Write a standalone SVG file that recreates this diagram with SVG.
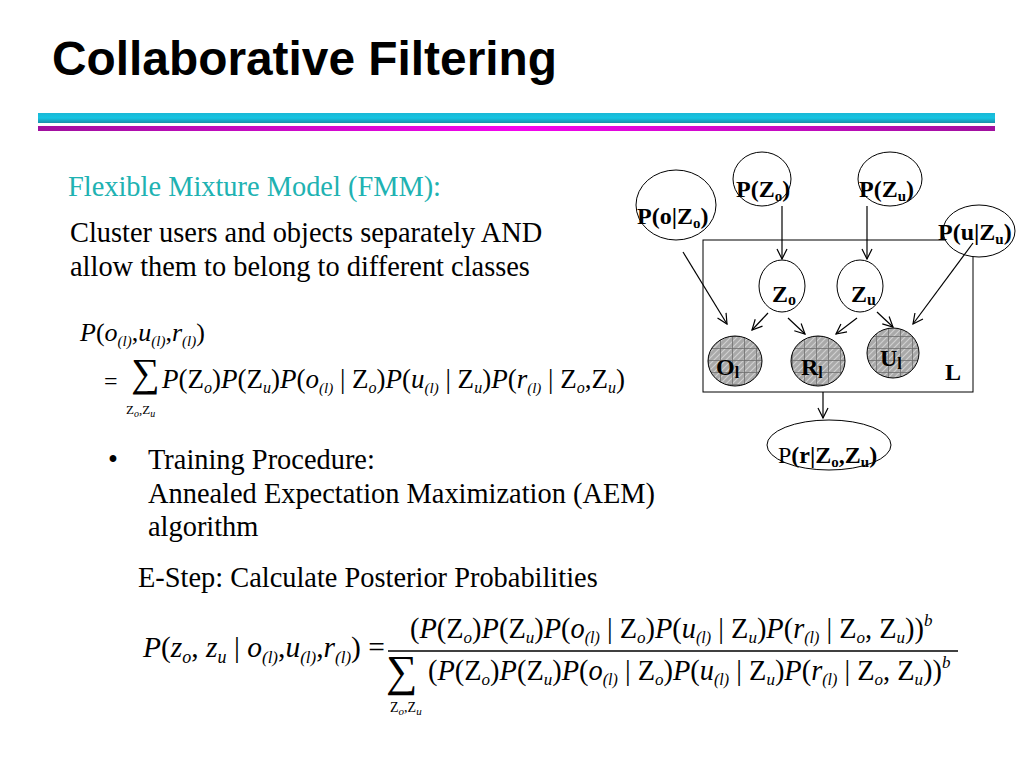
<svg xmlns="http://www.w3.org/2000/svg" width="1024" height="768" viewBox="0 0 1024 768">
<defs>
<style>
.t{font-family:"Liberation Serif","DejaVu Serif",serif;font-size:28.4px;fill:#000}
.m{font-family:"Liberation Serif","DejaVu Serif",serif;fill:#000}
.i{font-style:italic}
.nl{font-family:"Liberation Serif","DejaVu Serif",serif;font-weight:bold;font-size:24px;fill:#000}
.node{fill:#fff;stroke:#000;stroke-width:1}
.obs{fill:url(#hatch);stroke:#000;stroke-width:1}
.con line{stroke:#000;stroke-width:1.2;marker-end:url(#arr)}
</style>
<marker id="arr" viewBox="0 0 12 12" refX="11" refY="6" markerWidth="12" markerHeight="12" markerUnits="userSpaceOnUse" orient="auto">
<path d="M1,1 L11,6 L1,11" fill="none" stroke="#000" stroke-width="1.2"/>
</marker>
<pattern id="hatch" width="12" height="12" patternUnits="userSpaceOnUse">
<rect width="12" height="12" fill="#a9a9a9"/>
<path d="M-3,3 L3,-3 M0,12 L12,0 M9,15 L15,9 M-3,9 L9,-3 M3,15 L15,3" stroke="#d0d0d0" stroke-width="1.2"/>
<path d="M0,0.5 H12 M0.5,0 V12" stroke="#6e6e6e" stroke-width="0.8"/>
</pattern>
<linearGradient id="cy" x1="0" y1="0" x2="0" y2="1">
<stop offset="0" stop-color="#1ab8d6"/>
<stop offset="0.5" stop-color="#16c4e2"/>
<stop offset="1" stop-color="#1a8ea8"/>
</linearGradient>
<linearGradient id="mg" x1="0" y1="0" x2="1" y2="0">
<stop offset="0" stop-color="#a0109e"/>
<stop offset="0.5" stop-color="#f404ee"/>
<stop offset="1" stop-color="#a0109e"/>
</linearGradient>
</defs>
<rect width="1024" height="768" fill="#fff"/>

<text x="52" y="75" font-family="Liberation Sans, Arial, sans-serif" font-weight="bold" font-size="48" textLength="505" lengthAdjust="spacingAndGlyphs">Collaborative Filtering</text>
<rect x="38" y="113" width="957" height="10" fill="url(#cy)"/>
<rect x="38" y="126" width="957" height="5" fill="url(#mg)"/>

<text class="t" x="68" y="196" style="fill:#20b2b2">Flexible Mixture Model (FMM):</text>
<text class="t" x="70" y="242">Cluster users and objects separately AND</text>
<text class="t" x="70" y="276">allow them to belong to different classes</text>

<!-- formula 1 -->
<text class="m" font-size="26" x="80" y="341"><tspan class="i">P</tspan>(<tspan class="i">o</tspan><tspan font-size="15" class="i" dy="5">(l)</tspan><tspan dy="-5">,</tspan><tspan class="i">u</tspan><tspan font-size="15" class="i" dy="5">(l)</tspan><tspan dy="-5">,</tspan><tspan class="i">r</tspan><tspan font-size="15" class="i" dy="5">(l)</tspan><tspan dy="-5">)</tspan></text>
<text class="m" font-size="24" x="104" y="389">=</text>
<text class="m" font-size="40" x="131" y="386">∑</text>
<text class="m" font-size="13" x="126" y="414">Z<tspan class="i" font-size="10" dy="3">o</tspan><tspan dy="-3">,Z</tspan><tspan class="i" font-size="10" dy="3">u</tspan></text>
<text class="m" font-size="27" x="162" y="388"><tspan class="i">P</tspan>(Z<tspan class="i" font-size="16" dy="5">o</tspan><tspan dy="-5">)</tspan><tspan class="i">P</tspan>(Z<tspan class="i" font-size="16" dy="5">u</tspan><tspan dy="-5">)</tspan><tspan class="i">P</tspan>(<tspan class="i">o</tspan><tspan class="i" font-size="15" dy="5">(l)</tspan><tspan dy="-5"> | Z</tspan><tspan class="i" font-size="16" dy="5">o</tspan><tspan dy="-5">)</tspan><tspan class="i">P</tspan>(<tspan class="i">u</tspan><tspan class="i" font-size="15" dy="5">(l)</tspan><tspan dy="-5"> | Z</tspan><tspan class="i" font-size="16" dy="5">u</tspan><tspan dy="-5">)</tspan><tspan class="i">P</tspan>(<tspan class="i">r</tspan><tspan class="i" font-size="15" dy="5">(l)</tspan><tspan dy="-5"> | Z</tspan><tspan class="i" font-size="16" dy="5">o</tspan><tspan dy="-5">,Z</tspan><tspan class="i" font-size="16" dy="5">u</tspan><tspan dy="-5">)</tspan></text>

<text class="t" x="108" y="469">•</text>
<text class="t" x="148" y="469">Training Procedure:</text>
<text class="t" x="148" y="503">Annealed Expectation Maximization (AEM)</text>
<text class="t" x="148" y="536">algorithm</text>
<text class="t" x="138" y="587">E-Step: Calculate Posterior Probabilities</text>

<!-- formula 2 -->
<text class="m" font-size="29.5" x="143" y="657"><tspan class="i">P</tspan>(<tspan class="i">z</tspan><tspan class="i" font-size="18" dy="6">o</tspan><tspan dy="-6">, </tspan><tspan class="i">z</tspan><tspan class="i" font-size="18" dy="6">u</tspan><tspan dy="-6"> | </tspan><tspan class="i">o</tspan><tspan class="i" font-size="17" dy="6">(l)</tspan><tspan dy="-6">,</tspan><tspan class="i">u</tspan><tspan class="i" font-size="17" dy="6">(l)</tspan><tspan dy="-6">,</tspan><tspan class="i">r</tspan><tspan class="i" font-size="17" dy="6">(l)</tspan><tspan dy="-6">) =</tspan></text>
<line x1="388" y1="651" x2="958" y2="651" stroke="#000" stroke-width="1.5"/>
<text class="m" font-size="28.4" x="410" y="638">(<tspan class="i">P</tspan>(Z<tspan class="i" font-size="17" dy="5">o</tspan><tspan dy="-5">)</tspan><tspan class="i">P</tspan>(Z<tspan class="i" font-size="17" dy="5">u</tspan><tspan dy="-5">)</tspan><tspan class="i">P</tspan>(<tspan class="i">o</tspan><tspan class="i" font-size="16" dy="5">(l)</tspan><tspan dy="-5"> | Z</tspan><tspan class="i" font-size="17" dy="5">o</tspan><tspan dy="-5">)</tspan><tspan class="i">P</tspan>(<tspan class="i">u</tspan><tspan class="i" font-size="16" dy="5">(l)</tspan><tspan dy="-5"> | Z</tspan><tspan class="i" font-size="17" dy="5">u</tspan><tspan dy="-5">)</tspan><tspan class="i">P</tspan>(<tspan class="i">r</tspan><tspan class="i" font-size="16" dy="5">(l)</tspan><tspan dy="-5"> | Z</tspan><tspan class="i" font-size="17" dy="5">o</tspan><tspan dy="-5">, Z</tspan><tspan class="i" font-size="17" dy="5">u</tspan><tspan dy="-5">))</tspan><tspan class="i" font-size="17" dy="-12">b</tspan></text>
<text class="m" font-size="44" x="386" y="686">∑</text>
<text class="m" font-size="14" x="390" y="712">Z<tspan class="i" font-size="11" dy="3">o</tspan><tspan dy="-3">,Z</tspan><tspan class="i" font-size="11" dy="3">u</tspan></text>
<text class="m" font-size="28.4" x="428" y="680">(<tspan class="i">P</tspan>(Z<tspan class="i" font-size="17" dy="5">o</tspan><tspan dy="-5">)</tspan><tspan class="i">P</tspan>(Z<tspan class="i" font-size="17" dy="5">u</tspan><tspan dy="-5">)</tspan><tspan class="i">P</tspan>(<tspan class="i">o</tspan><tspan class="i" font-size="16" dy="5">(l)</tspan><tspan dy="-5"> | Z</tspan><tspan class="i" font-size="17" dy="5">o</tspan><tspan dy="-5">)</tspan><tspan class="i">P</tspan>(<tspan class="i">u</tspan><tspan class="i" font-size="16" dy="5">(l)</tspan><tspan dy="-5"> | Z</tspan><tspan class="i" font-size="17" dy="5">u</tspan><tspan dy="-5">)</tspan><tspan class="i">P</tspan>(<tspan class="i">r</tspan><tspan class="i" font-size="16" dy="5">(l)</tspan><tspan dy="-5"> | Z</tspan><tspan class="i" font-size="17" dy="5">o</tspan><tspan dy="-5">, Z</tspan><tspan class="i" font-size="17" dy="5">u</tspan><tspan dy="-5">))</tspan><tspan class="i" font-size="17" dy="-12">b</tspan></text>

<!-- graphical model -->
<rect id="plate" x="703" y="240" width="270" height="152" fill="none" stroke="#000" stroke-width="1"/>
<g id="n-pzo"><ellipse class="node" cx="762" cy="179" rx="29" ry="27"/><text class="nl" x="736" y="197">P(Z<tspan font-size="15" dy="4">o</tspan><tspan dy="-4">)</tspan></text></g>
<g id="n-pzu"><ellipse class="node" cx="890" cy="179" rx="32" ry="27"/><text class="nl" x="859" y="197">P(Z<tspan font-size="15" dy="4">u</tspan><tspan dy="-4">)</tspan></text></g>
<g id="n-poz"><ellipse class="node" cx="676" cy="205" rx="40" ry="35"/><text class="nl" x="637" y="224">P(o|Z<tspan font-size="15" dy="4">o</tspan><tspan dy="-4">)</tspan></text></g>
<g id="n-puz"><ellipse class="node" cx="979" cy="231" rx="36" ry="26"/><text class="nl" x="938" y="240">P(u|Z<tspan font-size="15" dy="4">u</tspan><tspan dy="-4">)</tspan></text></g>
<g id="n-zo"><ellipse class="node" cx="782" cy="286" rx="23" ry="26"/><text class="nl" font-size="26" x="772" y="302">Z<tspan font-size="16" dy="3">o</tspan></text></g>
<g id="n-zu"><ellipse class="node" cx="860" cy="286" rx="23" ry="26"/><text class="nl" font-size="26" x="851" y="302">Z<tspan font-size="16" dy="3">u</tspan></text></g>
<g id="n-ol"><ellipse class="obs" cx="735" cy="361" rx="27" ry="25"/><text class="nl" font-size="26" x="716" y="375">O<tspan font-size="16" dy="3">l</tspan></text></g>
<g id="n-rl"><ellipse class="obs" cx="818" cy="361" rx="27" ry="25"/><text class="nl" font-size="26" x="801" y="375">R<tspan font-size="16" dy="3">l</tspan></text></g>
<g id="n-ul"><ellipse class="obs" cx="893" cy="353" rx="26" ry="25"/><text class="nl" font-size="26" x="880" y="366">U<tspan font-size="16" dy="3">l</tspan></text></g>
<text id="plate-label" class="nl" font-size="26" x="945" y="380">L</text>
<g id="n-prz"><ellipse class="node" cx="829" cy="445" rx="62" ry="25"/><text class="nl" x="778" y="463"><tspan font-weight="normal">P</tspan>(r|Z<tspan font-size="15" dy="4">o</tspan><tspan dy="-4">,Z</tspan><tspan font-size="15" dy="4">u</tspan><tspan dy="-4">)</tspan></text></g>

<g id="connectors" class="con">
<line x1="782" y1="206" x2="782" y2="259"/>
<line x1="867" y1="206" x2="867" y2="259"/>
<line x1="683" y1="252" x2="727" y2="324"/>
<line x1="973" y1="243" x2="913" y2="324"/>
<line x1="768" y1="313" x2="752" y2="330"/>
<line x1="788" y1="318" x2="805" y2="334"/>
<line x1="857" y1="318" x2="836" y2="334"/>
<line x1="877" y1="312" x2="893" y2="327"/>
<line x1="823" y1="392" x2="823" y2="418"/>
</g>
</svg>
